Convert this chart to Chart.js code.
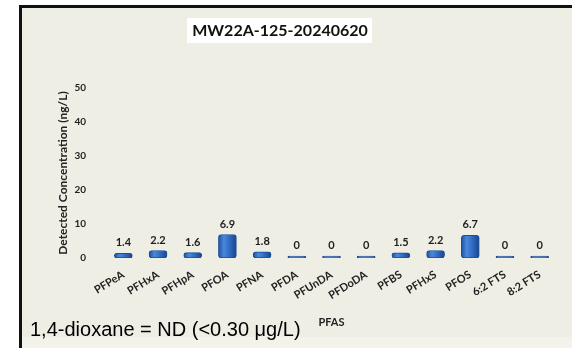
<!DOCTYPE html>
<html>
<head>
<meta charset="utf-8">
<script src="https://cdn.jsdelivr.net/npm/chart.js@4/dist/chart.umd.min.js"></script>
<style>
  html, body { margin: 0; padding: 0; background: #ffffff; }
  #wrap { width: 572px; height: 348px; position: relative; }
</style>
</head>
<body>
<div id="wrap"><canvas id="c" width="572" height="348"></canvas></div>
<script>
// PFAS compounds and detected concentrations (ng/L)
const categories = ['PFPeA', 'PFHxA', 'PFHpA', 'PFOA', 'PFNA', 'PFDA', 'PFUnDA',
                    'PFDoDA', 'PFBS', 'PFHxS', 'PFOS', '6:2 FTS', '8:2 FTS'];
const concentrations = [1.4, 2.2, 1.6, 6.9, 1.8, 0, 0, 0, 1.5, 2.2, 6.7, 0, 0];
const yTicks = [0, 10, 20, 30, 40, 50];

const chartTitle = 'MW22A-125-20240620';
const footnote = '1,4-dioxane = ND (<0.30 \u03BCg/L)';

const fam = 'Lato, "Open Sans", sans-serif';
const BAR_W = 18;

// Shaded fill so each bar reads as a rounded column
function barFill(c) {
  const chart = c.chart;
  const xs = chart.scales && chart.scales.x;
  if (!xs || c.dataIndex === undefined || !chart.chartArea) return '#2f6cc4';
  const x = xs.getPixelForValue(c.dataIndex);
  const g = chart.ctx.createLinearGradient(x - BAR_W / 2, 0, x + BAR_W / 2, 0);
  g.addColorStop(0, '#1e4f9f');
  g.addColorStop(0.3, '#4a88dc');
  g.addColorStop(0.6, '#2f6cc4');
  g.addColorStop(1, '#1a4489');
  return g;
}

// Framed cream panel, title box, value labels and footnote
const decorations = {
  id: 'decorations',
  beforeDraw(chart) {
    const ctx = chart.ctx;
    ctx.save();
    ctx.fillStyle = '#ffffff';
    ctx.fillRect(0, 0, chart.width, chart.height);
    ctx.fillStyle = '#efeee5';
    ctx.fillRect(20, 5, chart.width - 20, 332);
    ctx.fillStyle = '#f3f2eb';
    ctx.fillRect(20, 337, chart.width - 20, chart.height - 337);
    ctx.fillStyle = '#111111';
    ctx.fillRect(20, 5, chart.width - 20, 3);
    ctx.fillRect(19, 5, 3, chart.height - 5);
    // title
    ctx.fillStyle = '#ffffff';
    ctx.fillRect(187, 18, 185, 25);
    ctx.fillStyle = '#111111';
    ctx.font = 'bold 16px ' + fam;
    ctx.textAlign = 'center';
    ctx.textBaseline = 'middle';
    ctx.fillText(chartTitle, 280, 31);
    ctx.restore();
  },
  afterDatasetsDraw(chart) {
    const ctx = chart.ctx;
    const meta = chart.getDatasetMeta(0);
    ctx.save();
    ctx.font = 'bold 11px ' + fam;
    ctx.fillStyle = '#1e1e1e';
    ctx.textAlign = 'center';
    ctx.textBaseline = 'bottom';
    meta.data.forEach((bar, i) => {
      ctx.fillText(String(concentrations[i]), bar.x, bar.y - 5);
    });
    ctx.restore();
  },
  afterDraw(chart) {
    const ctx = chart.ctx;
    ctx.save();
    ctx.font = '20px "Liberation Sans", Arial, sans-serif';
    ctx.fillStyle = '#000000';
    ctx.textAlign = 'left';
    ctx.textBaseline = 'alphabetic';
    ctx.fillText(footnote, 30, 336);
    ctx.restore();
  }
};

new Chart(document.getElementById('c'), {
  type: 'bar',
  data: {
    labels: categories,
    datasets: [{
      data: concentrations,
      backgroundColor: barFill,
      borderColor: '#1d4c98',
      borderWidth: 1,
      borderRadius: 3,
      borderSkipped: false,
      minBarLength: 2,
      barThickness: BAR_W
    }]
  },
  options: {
    responsive: false,
    animation: false,
    layout: { padding: { left: 20, right: 15, top: 88, bottom: 0 } },
    plugins: {
      legend: { display: false },
      title: { display: false },
      tooltip: { enabled: false }
    },
    scales: {
      x: {
        grid: { display: false },
        border: { display: false },
        ticks: {
          font: { family: fam, size: 11, weight: 'bold' },
          color: '#222222',
          minRotation: 32,
          maxRotation: 32,
          padding: 2
        },
        title: {
          display: true,
          text: 'PFAS',
          font: { family: fam, size: 11, weight: 'bold' },
          color: '#222222',
          padding: { top: 0, bottom: 19 }
        },
        afterFit(scale) { scale.height = 90; }
      },
      y: {
        min: 0,
        max: 50,
        grid: { display: false },
        border: { display: false },
        afterBuildTicks(scale) { scale.ticks = yTicks.map(v => ({ value: v })); },
        ticks: {
          font: { family: fam, size: 10, weight: 'bold' },
          color: '#222222',
          padding: 12
        },
        title: {
          display: true,
          text: 'Detected Concentration (ng/L)',
          font: { family: fam, size: 12, weight: 'bold' },
          color: '#222222',
          padding: { top: 36, bottom: 0 }
        },
        afterFit(scale) { scale.width = 86; }
      }
    }
  },
  plugins: [decorations]
});
</script>
</body>
</html>
